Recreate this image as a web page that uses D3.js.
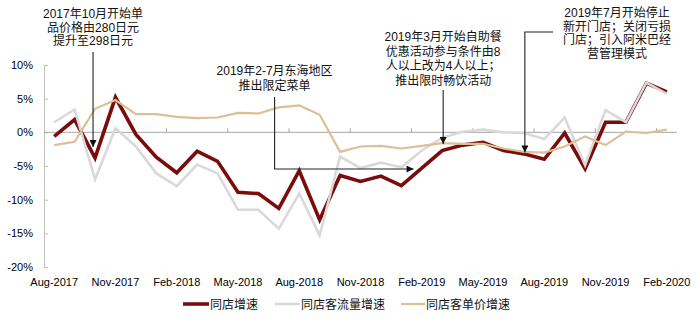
<!DOCTYPE html>
<html>
<head>
<meta charset="utf-8">
<script src="https://cdn.jsdelivr.net/npm/d3@7"></script>
<style>
  html, body { margin: 0; padding: 0; background: #fff; }
  svg { display: block; font-family: "Liberation Sans", Arial, "Noto Sans CJK SC", sans-serif; }
</style>
</head>
<body>
<svg id="chart" width="700" height="323"></svg>
<script>
// Monthly categories, Aug-2017 .. Feb-2020
const months = ["Aug-2017","Sep-2017","Oct-2017","Nov-2017","Dec-2017","Jan-2018","Feb-2018","Mar-2018",
  "Apr-2018","May-2018","Jun-2018","Jul-2018","Aug-2018","Sep-2018","Oct-2018","Nov-2018","Dec-2018",
  "Jan-2019","Feb-2019","Mar-2019","Apr-2019","May-2019","Jun-2019","Jul-2019","Aug-2019","Sep-2019",
  "Oct-2019","Nov-2019","Dec-2019","Jan-2020","Feb-2020"];

// Same-store sales growth (%)
const sssg = [-0.6, 1.9, -3.8, 5.2, -0.3, -3.7, -6.0, -2.8, -4.3, -8.9, -9.1, -11.3, -5.7, -13.0, -6.4, -7.3,
  -6.5, -7.9, -5.3, -2.7, -1.9, -1.5, -2.7, -3.2, -4.0, -0.1, -5.4, 1.5, 1.5, 7.3, 6.0];
// Same-store customer traffic growth (%)
const traffic = [1.5, 3.4, -7.0, 0.6, -2.1, -6.1, -8.0, -4.8, -6.1, -11.5, -11.5, -14.3, -9.1, -15.3, -3.6, -5.3,
  -4.5, -5.2, -2.7, -0.8, 0.1, 0.4, 0.0, -0.1, -1.0, 2.2, -4.9, 3.3, 1.5, 7.4, 5.7];
// Same-store average ticket growth (%)
const ticket = [-1.9, -1.4, 3.5, 4.8, 2.7, 2.7, 2.3, 2.1, 2.2, 2.9, 2.8, 3.7, 4.0, 2.6, -2.9, -2.1,
  -2.0, -2.4, -2.0, -1.6, -1.7, -1.7, -2.4, -2.9, -3.0, -2.1, -0.6, -1.9, 0.1, -0.1, 0.4];

const yTicks = [10, 5, 0, -5, -10, -15, -20];
const xTickLabels = ["Aug-2017","Nov-2017","Feb-2018","May-2018","Aug-2018","Nov-2018","Feb-2019",
  "May-2019","Aug-2019","Nov-2019","Feb-2020"];

const seriesNames = ["同店增速", "同店客流量增速", "同店客单价增速"];
const seriesColors = ["#7a0c0c", "#d9d9d9", "#dcbf95"];
const seriesWidths = [3.6, 2.6, 2.2];
const seriesData = [sssg, traffic, ticket];

const svg = d3.select("#chart");

const x = d3.scaleBand().domain(months).range([44, 677]).paddingInner(0).paddingOuter(0);
const xc = m => x(m) + x.bandwidth() / 2;
const y = d3.scaleLinear().domain([-20, 10]).range([267, 65]);

const axisColor = "#bfbfbf";

// Y axis with inward ticks
const yAxis = svg.append("g")
  .attr("transform", "translate(44,0)")
  .call(d3.axisLeft(y).tickValues(yTicks).tickFormat(d => d + "%")
    .tickSizeInner(-4).tickSizeOuter(0).tickPadding(11));
yAxis.select(".domain").attr("stroke", axisColor);
yAxis.selectAll(".tick line").attr("stroke", axisColor);
yAxis.selectAll(".tick text").attr("fill", "#000").style("font-size", "11px")
  .style("font-family", "'Liberation Sans', Arial, sans-serif");

// Zero baseline with ticks at every third month boundary
svg.append("line")
  .attr("x1", x.range()[0]).attr("x2", x.range()[1])
  .attr("y1", y(0)).attr("y2", y(0))
  .attr("stroke", "#a6a6a6").attr("stroke-width", 1);
const boundaries = months.map((m, i) => i).filter(i => i > 0 && i % 3 === 0);
svg.append("g").selectAll("line").data(boundaries).join("line")
  .attr("x1", i => x(months[i])).attr("x2", i => x(months[i]))
  .attr("y1", y(0)).attr("y2", y(0) - 4)
  .attr("stroke", "#a6a6a6").attr("stroke-width", 1);

// X labels under the plot
svg.append("g").selectAll("text").data(xTickLabels).join("text")
  .attr("x", d => xc(d)).attr("y", 286)
  .attr("text-anchor", "middle")
  .style("font-size", "11px")
  .style("font-family", "'Liberation Sans', Arial, sans-serif")
  .attr("fill", "#000")
  .text(d => d);

// Series lines: sales first, then traffic, then ticket on top
const line = d3.line().x((d, i) => xc(months[i])).y(d => y(d));
seriesData.forEach((vals, k) => {
  svg.append("path")
    .datum(vals)
    .attr("d", line)
    .attr("fill", "none")
    .attr("stroke", seriesColors[k])
    .attr("stroke-width", seriesWidths[k])
    .attr("stroke-linejoin", "miter")
    .attr("stroke-linecap", "butt");
});

// Annotations
const defs = svg.append("defs");
defs.append("marker")
  .attr("id", "arrow")
  .attr("viewBox", "0 0 10 10")
  .attr("refX", 10).attr("refY", 5)
  .attr("markerUnits", "userSpaceOnUse")
  .attr("markerWidth", 9).attr("markerHeight", 7)
  .attr("orient", "auto")
  .append("path").attr("d", "M0,0 L10,5 L0,10 Z").attr("fill", "#111");

const annFont = "'Liberation Sans', Arial, 'Noto Sans CJK SC', sans-serif";
function textBlock(cx, baselines, lines) {
  const t = svg.append("text")
    .attr("text-anchor", "middle")
    .style("font-size", "12px")
    .style("font-family", annFont)
    .attr("fill", "#111");
  lines.forEach((s, i) => {
    t.append("tspan").attr("x", cx).attr("y", baselines[i]).text(s);
  });
}
function connector(d) {
  svg.append("path").attr("d", d)
    .attr("fill", "none").attr("stroke", "#222").attr("stroke-width", 1.1)
    .attr("marker-end", "url(#arrow)");
}

// Oct-2017 price increase
const a1x = xc("Oct-2017") - 2;
textBlock(a1x, [18, 31.7, 45.4], ["2017年10月开始单", "品价格由280日元", "提升至298日元"]);
connector(`M${a1x},52 V147`);

// Feb-Jul 2019 regional limited menu
const a2x = x("Jul-2018") + 6;
textBlock(a2x, [75, 89.5], ["2019年2-7月东海地区", "推出限定菜单"]);
connector(`M${a2x},97 V169 H${x("Feb-2019") + 2}`);

// Mar-2019 buffet promotion
const a3x = xc("Mar-2019") + 1;
textBlock(a3x, [41, 55.7, 70.4, 85], ["2019年3月开始自助餐", "优惠活动参与条件由8", "人以上改为4人以上；", "推出限时畅饮活动"]);
connector(`M${a3x},90 V144`);

// Jul-2019 store strategy change
const a4x = xc("Jul-2019") + 1;
textBlock(617, [17, 30.5, 44, 57.5], ["2019年7月开始停止", "新开门店；关闭亏损", "门店；引入阿米巴经", "营管理模式"]);
connector(`M553,32 H${a4x} V152.5`);

// Legend
const legendItems = [
  { x1: 183, x2: 209, tx: 210 },
  { x1: 275, x2: 300, tx: 301 },
  { x1: 401, x2: 425, tx: 426 }
];
legendItems.forEach((it, k) => {
  svg.append("line")
    .attr("x1", it.x1).attr("x2", it.x2).attr("y1", 304).attr("y2", 304)
    .attr("stroke", seriesColors[k]).attr("stroke-width", seriesWidths[k]);
  svg.append("text")
    .attr("x", it.tx).attr("y", 308.5)
    .style("font-size", "12px")
    .style("font-family", annFont)
    .attr("fill", "#111")
    .text(seriesNames[k]);
});
</script>
</body>
</html>
